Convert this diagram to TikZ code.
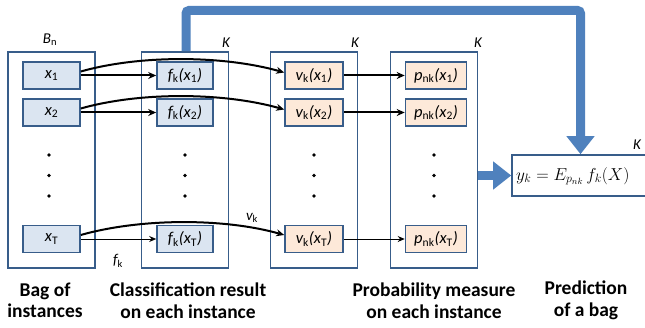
\documentclass[tikz,border=0pt]{standalone}
\usepackage{fontspec}
\setmainfont{Carlito}
\usetikzlibrary{arrows.meta}
\definecolor{bord}{HTML}{385D8A}
\definecolor{bfill}{HTML}{DBE5F1}
\definecolor{ofill}{HTML}{FDE9D9}
\definecolor{thickblue}{HTML}{4F81BD}
\newcommand\ssub[1]{\textsubscript{#1}}
\begin{document}
\begin{tikzpicture}[x=1pt,y=-1pt,
  colbox/.style={draw=bord,line width=1.6pt,minimum width=87pt,minimum height=216pt,inner sep=0pt},
  bbox/.style={draw=bord,line width=1.6pt,fill=bfill,minimum height=27pt,inner sep=0pt,font=\fontsize{16.5}{18}\selectfont\itshape},
  obox/.style={bbox,fill=ofill},
  blackdot/.style={circle,fill=black,inner sep=0pt,minimum size=3.6pt},
  lab/.style={font=\fontsize{15}{17}\selectfont\itshape,inner sep=0pt},
  captxt/.style={font=\fontsize{19.5}{21.5}\selectfont\bfseries,align=center,inner sep=0pt},
  thinarr/.style={-{Stealth[length=7pt,width=6pt]},line width=0.9pt},
  thkarr/.style={-{Stealth[length=8pt,width=7pt]},line width=2pt},
  fatarr/.style={thickblue,line width=9pt,-{Triangle[length=18pt,width=27pt]}}
]
\useasboundingbox (0,0) rectangle (645,328);
\clip (0,0) rectangle (645,328);
% columns
\node[colbox] (c1) at (51.5,160) {};
\node[colbox] (c2) at (185,160) {};
\node[colbox] (c3) at (314,160) {};
\node[colbox] (c4) at (434,160) {};
\node[lab,font=\fontsize{15}{17}\selectfont] (bn) at (50,40) {\textit{B}\ssub{n}};
\node[lab] (k2) at (226,43) {K};
\node[lab] (k3) at (355,43) {K};
\node[lab] (k4) at (478,43) {K};
\node[lab] (k5) at (637,145) {K};
% bag column
\node[bbox,minimum width=57pt] (x1) at (51.5,75.5) {x\ssub{\upshape 1}};
\node[bbox,minimum width=57pt] (x2) at (51.5,112.5) {x\ssub{\upshape 2}};
\node[bbox,minimum width=57pt] (xT) at (51.5,239) {x\ssub{\upshape T}};
% classification column
\node[bbox,minimum width=56pt] (f1) at (185,75.5) {f\ssub{\upshape k}(x\ssub{\upshape 1})};
\node[bbox,minimum width=56pt] (f2) at (185,112.5) {f\ssub{\upshape k}(x\ssub{\upshape 2})};
\node[bbox,minimum width=56pt] (fT) at (185,239) {f\ssub{\upshape k}(x\ssub{\upshape T})};
% v column
\node[obox,minimum width=58pt] (v1) at (314,75.5) {v\ssub{\upshape k}(x\ssub{\upshape 1})};
\node[obox,minimum width=58pt] (v2) at (314,112.5) {v\ssub{\upshape k}(x\ssub{\upshape 2})};
\node[obox,minimum width=58pt] (vT) at (314,239) {v\ssub{\upshape k}(x\ssub{\upshape T})};
% p column
\node[obox,minimum width=61pt] (p1) at (436,75.5) {p\ssub{\upshape nk}(x\ssub{\upshape 1})};
\node[obox,minimum width=61pt] (p2) at (436,112.5) {p\ssub{\upshape nk}(x\ssub{\upshape 2})};
\node[obox,minimum width=61pt] (pT) at (436,239) {p\ssub{\upshape nk}(x\ssub{\upshape T})};
% dots
\foreach \c/\xx in {a/49,b/185,c/314,d/434}{
  \node[blackdot] (d\c1) at (\xx,155) {};
  \node[blackdot] (d\c2) at (\xx,175.5) {};
  \node[blackdot] (d\c3) at (\xx,196) {};
}
% prediction box
\node[draw=bord,line width=1.6pt,minimum width=150pt,minimum height=41pt,inner sep=0pt] (pred) at (587,175.5) {};
\node[anchor=west,inner sep=0pt,font=\fontsize{18.5}{21}\selectfont] (form) at (516,176) {$y_k = E_{p_{nk}}\, f_k(X)$};
% arrows
\draw[thkarr] (x1) -- (f1);
\draw[thkarr] (x2) -- (f2);
\draw[thinarr] (xT) -- (fT);
\draw[thkarr] (v1) -- (p1);
\draw[thkarr] (v2) -- (p2);
\draw[thinarr] (vT) -- (pT);
\draw[thkarr] ([yshift=4pt]x1.east) .. controls +(60,-17) and +(-60,-17) .. ([yshift=3pt]v1.west);
\draw[thkarr] ([yshift=4pt]x2.east) .. controls +(60,-17) and +(-60,-17) .. ([yshift=3pt]v2.west);
\draw[thkarr] ([yshift=4pt]xT.east) .. controls +(60,-17) and +(-60,-17) .. ([yshift=4pt]vT.west);
\node[lab] (fk) at (118,261) {f\ssub{\upshape k}};
\node[lab] (vk) at (252,218) {v\ssub{\upshape k}};
% thick blue arrows
\coordinate (tr) at (580.5,10.5);
\draw[fatarr,rounded corners=3pt] ([xshift=1pt]c2.north) |- (tr) -- (tr |- pred.north);
\draw[fatarr] (c4.east |- pred.west) -- (pred.west);
% captions
\node[captxt] (cap1) at (45,300.5) {Bag of\\instances};
\node[captxt] (cap2) at (188,300.5) {Classification result\\on each instance};
\node[captxt] (cap3) at (434,300.5) {Probability measure\\on each instance};
\node[captxt] (cap4) at (586,300.5) {Prediction\\of a bag};
\end{tikzpicture}
\end{document}
